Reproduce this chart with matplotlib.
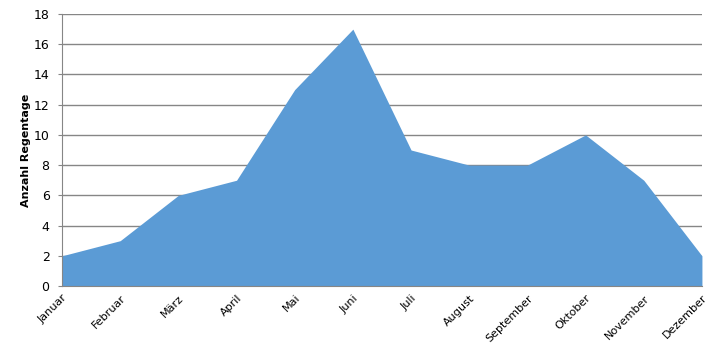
import matplotlib.pyplot as plt

months = ["Januar", "Februar", "März", "April", "Mai", "Juni", "Juli",
          "August", "September", "Oktober", "November", "Dezember"]
regentage = [2, 3, 6, 7, 13, 17, 9, 8, 8, 10, 7, 2]
y_ticks = list(range(0, 19, 2))

fig = plt.figure(figsize=(7.28, 3.56), dpi=100)
ax = fig.add_axes([0.0852, 0.1966, 0.879, 0.764])

x = list(range(len(months)))
ax.fill_between(x, regentage, 0, color='#5B9BD5', linewidth=0, zorder=2)

ax.set_xlim(0, len(months) - 1)
ax.set_ylim(0, 18)
ax.set_yticks(y_ticks)
ax.set_xticks(x)
ax.set_xticklabels(months, rotation=45, ha='right', rotation_mode='anchor', fontsize=8)
ax.tick_params(axis='y', labelsize=9, length=3, color='#868686', pad=6)
ax.tick_params(axis='x', length=0, pad=5)

ax.grid(axis='y', color='#868686', linewidth=1, zorder=1)
for s in ['top', 'right']:
    ax.spines[s].set_visible(False)
ax.spines['left'].set_color('#868686')
ax.spines['bottom'].set_color('#868686')

ax.set_ylabel('Anzahl Regentage', fontsize=8, fontweight='bold', labelpad=2)

plt.savefig('out.png', dpi=100)
